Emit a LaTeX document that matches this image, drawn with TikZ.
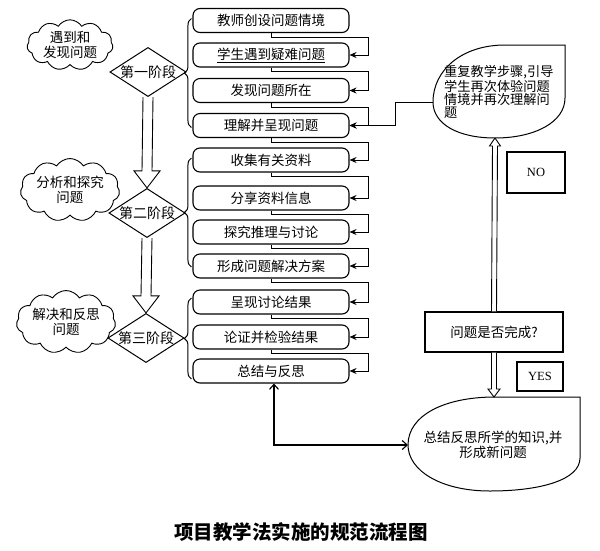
\documentclass[tikz,border=0pt]{standalone}
\usepackage{fontspec}
\setmainfont{Liberation Serif}
\newfontfamily\cjk{Noto Sans CJK SC}
\usetikzlibrary{arrows.meta,shapes.geometric,shapes.symbols,decorations.pathreplacing,calc}
\begin{document}
\begin{tikzpicture}[x=1pt,y=-1pt,
  cloudn/.style={cloud, draw, line width=0.9pt, cloud puffs=11, cloud puff arc=115, aspect=1.9,
    inner sep=0pt, minimum width=86pt, minimum height=46pt, align=center,
    font=\cjk\fontsize{13.5}{15}\selectfont},
  dia/.style={diamond, draw, line width=1pt, aspect=1.55, inner sep=0pt,
    minimum width=74pt, minimum height=47pt, font=\cjk\fontsize{14}{14}\selectfont},
  box/.style={draw, line width=1.1pt, rounded corners=7pt, minimum width=156pt, minimum height=24pt,
    inner sep=0pt, font=\cjk\fontsize{13.5}{14}\selectfont},
  conn/.style={line width=1pt, -{Stealth[length=7pt,width=6pt]}},
  rectn/.style={draw, line width=1.1pt, inner sep=0pt},
  bub/.style={draw, line width=1pt},
  harrow/.style={draw, line width=0.9pt, fill=white},
  bracestyle/.style={draw, line width=1pt, decorate, decoration={brace, amplitude=7pt}},
  dbl/.style={line width=1.1pt, {Straight Barb[length=5pt,width=9pt]}-{Straight Barb[length=5pt,width=9pt]}}
]
\useasboundingbox (0,0) rectangle (600,550);

% clouds
\node[cloudn] (c1) at (70,45) {遇到和\\发现问题};
\node[cloudn] (c2) at (70,190) {分析和探究\\问题};
\node[cloudn] (c3) at (66,322) {解决和反思\\问题};

% diamonds
\node[dia] (d1) at (148,72) {第一阶段};
\node[dia] (d2) at (147,213) {第二阶段};
\node[dia] (d3) at (146,338) {第三阶段};

% boxes
\node[box] (b1) at (271,20.5) {教师创设问题情境};
\node[box] (b2) at (271,55) {\underline{学生遇到疑难问题}};
\node[box] (b3) at (271,90.5) {发现问题所在};
\node[box] (b4) at (271,125.5) {理解并呈现问题};
\node[box] (b5) at (271,160) {收集有关资料};
\node[box] (b6) at (271,198) {分享资料信息};
\node[box] (b7) at (271,232) {探究推理与讨论};
\node[box] (b8) at (271,266) {形成问题解决方案};
\node[box] (b9) at (271,302) {呈现讨论结果};
\node[box] (b10) at (271,337) {论证并检验结果};
\node[box] (b11) at (271,371) {总结与反思};

% box chain connectors
\foreach \a/\b in {b1/b2,b2/b3,b3/b4,b4/b5,b5/b6,b6/b7,b7/b8,b8/b9,b9/b10,b10/b11}
  \draw[conn] (\a.south) -- ++(0,4) -| ([xshift=19pt]\b.east) -- (\b.east);

% braces
\draw[bracestyle] ([shift={(-1,2)}]b4.west) -- ([shift={(-1,-2)}]b1.west);
\draw[bracestyle] ([shift={(-1,1)}]b8.west) -- ([shift={(-1,-2)}]b5.west);
\draw[bracestyle] ([shift={(-1,8)}]b11.west) -- ([shift={(-1,-4)}]b9.west);

% hollow block arrows between stages
\draw[harrow] ($(d1.south)+(-5,0)$) -- ($(d2.north)+(-5,-17)$) -- ($(d2.north)+(-13,-17)$) -- (d2.north)
  -- ($(d2.north)+(13,-17)$) -- ($(d2.north)+(5,-17)$) -- ($(d1.south)+(5,0)$);
\draw[harrow] ($(d2.south)+(-5,0)$) -- ($(d3.north)+(-5,-17)$) -- ($(d3.north)+(-13,-17)$) -- (d3.north)
  -- ($(d3.north)+(13,-17)$) -- ($(d3.north)+(5,-17)$) -- ($(d2.south)+(5,0)$);

% top callout bubble
\draw[bub] (565,45) -- (565,98) .. controls (565,122) and (535,138) .. (495,138)
  .. controls (458,138) and (433,124) .. (433,102) .. controls (433,70) and (462,45) .. (505,45) -- cycle;
\coordinate (cbL) at (433,102);
\coordinate (cbB) at (495,138);
\node[align=left, anchor=north west, inner sep=0pt, font=\cjk\fontsize{13.2}{13}\selectfont] (ct) at (444,65)
  {重复教学步骤,引导\\学生再次体验问题\\情境并再次理解问\\题};
\draw[conn] (cbL) -- ++(-38,0) |- (b4.east);

% NO / question / YES
\node[rectn, minimum width=58pt, minimum height=41pt, font=\fontsize{12.5}{13}\selectfont] (no) at (536,172.5) {NO};
\node[rectn, minimum width=138pt, minimum height=40pt, font=\cjk\fontsize{13.5}{14}\selectfont] (q) at (494,332) {问题是否完成?};
\node[rectn, minimum width=46pt, minimum height=29pt, font=\fontsize{12.5}{13}\selectfont] (yes) at (540,376.5) {YES};

% bottom bubble
\draw[bub] (580,397) -- (580,458) .. controls (580,480) and (540,491) .. (490,491)
  .. controls (440,491) and (408,470) .. (408,445) .. controls (408,415) and (445,397) .. (495,397) -- cycle;
\coordinate (bbT) at (494,397);
\coordinate (bbL) at (408,445);
\node[align=center, inner sep=0pt, font=\cjk\fontsize{13.5}{14.5}\selectfont] (bt) at (493,445)
  {总结反思所学的知识,并\\形成新问题};

% double-line arrows on right
\draw[harrow] ($(q.north)+(-2.5,0)$) -- ($(cbB)+(-2.5,8)$) -- ($(cbB)+(-5.5,8)$) -- (cbB)
  -- ($(cbB)+(5.5,8)$) -- ($(cbB)+(2.5,8)$) -- ($(q.north)+(2.5,0)$);
\draw[harrow] ($(q.south)+(-2.5,0)$) -- ($(bbT)+(-2.5,-8)$) -- ($(bbT)+(-6,-8)$) -- (bbT)
  -- ($(bbT)+(6,-8)$) -- ($(bbT)+(2.5,-8)$) -- ($(q.south)+(2.5,0)$);

% box11 <-> bottom bubble
\draw[dbl] ([xshift=3pt]b11.south) |- (bbL);

% title
\node[font=\cjk\bfseries\fontsize{19.5}{20}\selectfont] (title) at (301,532) {项目教学法实施的规范流程图};
\end{tikzpicture}
\end{document}
